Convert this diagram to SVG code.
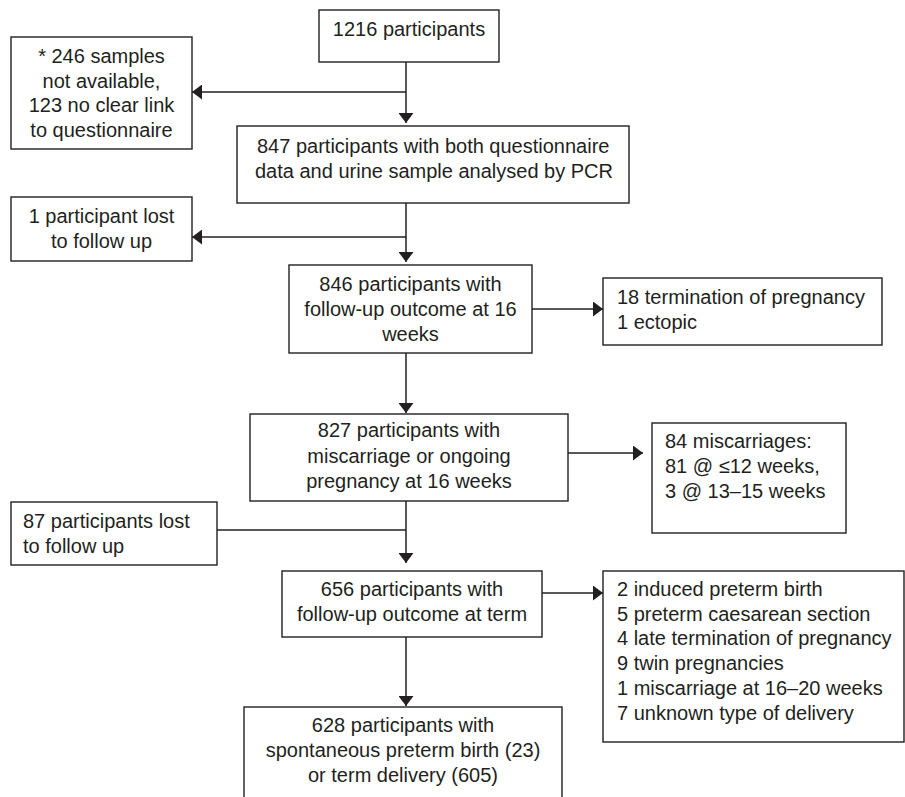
<svg xmlns="http://www.w3.org/2000/svg" width="905" height="797" viewBox="0 0 905 797">
<style>
rect{fill:#fff;stroke:#231f20;stroke-width:1.4}
text{font-family:"Liberation Sans",Arial,sans-serif;font-size:20px;fill:#231f20}
.c{text-anchor:middle}
.ln{stroke:#231f20;stroke-width:1.5;fill:none}
</style>
<defs>
<marker id="ah" markerUnits="userSpaceOnUse" markerWidth="10" markerHeight="15" refX="10" refY="7.5" orient="auto" viewBox="0 0 10 15">
<path d="M0,0 L10,7.5 L0,15 z" fill="#231f20"/>
</marker>
</defs>
<rect width="905" height="797" style="fill:#fff;stroke:none"/>
<g id="connectors">
<line class="ln" x1="406" y1="62" x2="406" y2="123" marker-end="url(#ah)"/>
<line class="ln" x1="406" y1="92" x2="192" y2="92" marker-end="url(#ah)"/>
<line class="ln" x1="406" y1="203" x2="406" y2="262" marker-end="url(#ah)"/>
<line class="ln" x1="406" y1="237" x2="192" y2="237" marker-end="url(#ah)"/>
<line class="ln" x1="406" y1="353" x2="406" y2="413" marker-end="url(#ah)"/>
<line class="ln" x1="532" y1="309" x2="603" y2="309" marker-end="url(#ah)"/>
<line class="ln" x1="406" y1="501" x2="406" y2="563" marker-end="url(#ah)"/>
<line class="ln" x1="568" y1="453" x2="643" y2="453" marker-end="url(#ah)"/>
<line class="ln" x1="217" y1="530" x2="406" y2="530"/>
<line class="ln" x1="406" y1="637" x2="406" y2="706" marker-end="url(#ah)"/>
<line class="ln" x1="542" y1="593" x2="603" y2="593" marker-end="url(#ah)"/>
</g>
<g id="n1216">
<rect x="319" y="10" width="180" height="52"/>
<text class="c" x="409" y="36">1216 participants</text>
</g>
<g id="n246">
<rect x="11" y="37" width="181" height="112"/>
<text class="c" x="101.5" y="63">* 246 samples</text>
<text class="c" x="101.5" y="88">not available,</text>
<text class="c" x="101.5" y="112">123 no clear link</text>
<text class="c" x="101.5" y="137">to questionnaire</text>
</g>
<g id="n847">
<rect x="237" y="126" width="392" height="77"/>
<text x="257" y="153">847 participants with both questionnaire</text>
<text x="255" y="178">data and urine sample analysed by PCR</text>
</g>
<g id="n1lost">
<rect x="11" y="197" width="181" height="64"/>
<text class="c" x="101.5" y="223">1 participant lost</text>
<text class="c" x="101.5" y="248">to follow up</text>
</g>
<g id="n846">
<rect x="289" y="265" width="243" height="88"/>
<text class="c" x="410.5" y="291">846 participants with</text>
<text class="c" x="410.5" y="316">follow-up outcome at 16</text>
<text class="c" x="410.5" y="341">weeks</text>
</g>
<g id="n18">
<rect x="603" y="278" width="279" height="67"/>
<text x="617" y="304">18 termination of pregnancy</text>
<text x="617" y="329">1 ectopic</text>
</g>
<g id="n827">
<rect x="250" y="414" width="318" height="87"/>
<text class="c" x="409" y="437">827 participants with</text>
<text class="c" x="409" y="462.5">miscarriage or ongoing</text>
<text class="c" x="409" y="488">pregnancy at 16 weeks</text>
</g>
<g id="n84">
<rect x="652" y="423" width="194" height="110"/>
<text x="665" y="448">84 miscarriages:</text>
<text x="665" y="473">81 @ ≤12 weeks,</text>
<text x="665" y="498">3 @ 13–15 weeks</text>
</g>
<g id="n87">
<rect x="11" y="502" width="206" height="63"/>
<text x="23" y="528">87 participants lost</text>
<text x="23" y="553">to follow up</text>
</g>
<g id="n656">
<rect x="282" y="571" width="260" height="66"/>
<text class="c" x="412" y="596">656 participants with</text>
<text class="c" x="412" y="621">follow-up outcome at term</text>
</g>
<g id="nlist">
<rect x="603" y="571" width="301" height="171"/>
<text x="617" y="596">2 induced preterm birth</text>
<text x="617" y="621">5 preterm caesarean section</text>
<text x="617" y="645">4 late termination of pregnancy</text>
<text x="617" y="670">9 twin pregnancies</text>
<text x="617" y="695">1 miscarriage at 16–20 weeks</text>
<text x="617" y="720">7 unknown type of delivery</text>
</g>
<g id="n628">
<rect x="244" y="707" width="318" height="95"/>
<text class="c" x="403" y="732">628 participants with</text>
<text class="c" x="403" y="757">spontaneous preterm birth (23)</text>
<text class="c" x="403" y="782">or term delivery (605)</text>
</g>
</svg>
